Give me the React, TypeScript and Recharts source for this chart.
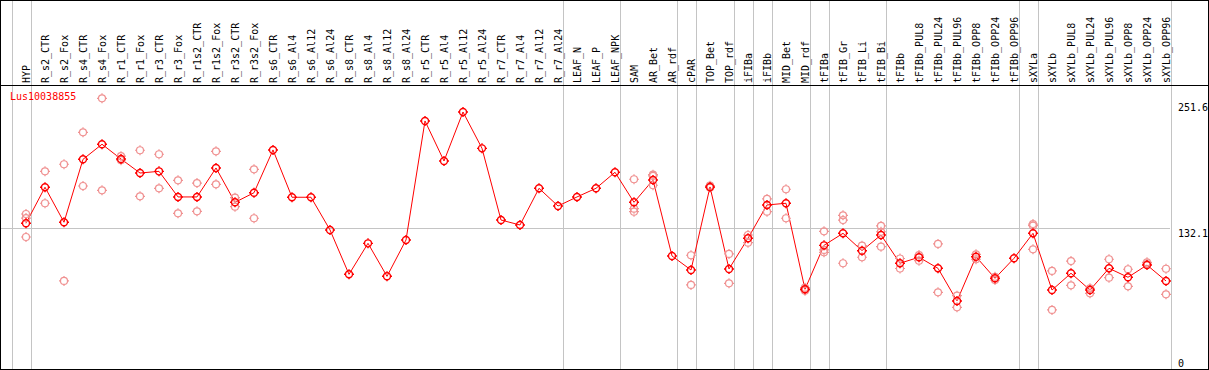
import React from 'react';
import { ComposedChart, Line, Scatter, XAxis, YAxis, ReferenceLine } from 'recharts';

const geneId = 'Lus10038855';

const categories = [
  'HYP', 'R_s2_CTR', 'R_s2_Fox', 'R_s4_CTR', 'R_s4_Fox', 'R_r1_CTR', 'R_r1_Fox', 'R_r3_CTR', 'R_r3_Fox',
  'R_r1s2_CTR', 'R_r1s2_Fox', 'R_r3s2_CTR', 'R_r3s2_Fox', 'R_s6_CTR', 'R_s6_Al4', 'R_s6_Al12', 'R_s6_Al24',
  'R_s8_CTR', 'R_s8_Al4', 'R_s8_Al12', 'R_s8_Al24', 'R_r5_CTR', 'R_r5_Al4', 'R_r5_Al12', 'R_r5_Al24',
  'R_r7_CTR', 'R_r7_Al4', 'R_r7_Al12', 'R_r7_Al24', 'LEAF_N', 'LEAF_P', 'LEAF_NPK', 'SAM', 'AR_Bet', 'AR_rdf',
  'cPAR', 'TOP_Bet', 'TOP_rdf', 'iFIBa', 'iFIBb', 'MID_Bet', 'MID_rdf', 'tFIBa', 'tFIB_Gr', 'tFIB_Li', 'tFIB_Bi',
  'tFIBb', 'tFIBb_PUL8', 'tFIBb_PUL24', 'tFIBb_PUL96', 'tFIBb_OPP8', 'tFIBb_OPP24', 'tFIBb_OPP96',
  'sXYLa', 'sXYLb', 'sXYLb_PUL8', 'sXYLb_PUL24', 'sXYLb_PUL96', 'sXYLb_OPP8', 'sXYLb_OPP24', 'sXYLb_OPP96',
];

const means = [
  136.8, 171.0, 137.8, 197.5, 211.8, 197.8, 184.5, 186.1, 161.8, 161.8, 189.3, 156.7, 165.8,
  206.4, 161.5, 161.5, 130.5, 88.4, 117.8, 86.5, 121.0, 233.9, 195.9, 242.4, 207.9,
  139.9, 135.2, 170.0, 153.2, 161.8, 170.0, 185.2, 156.7, 177.9, 105.8, 92.5, 171.3, 93.5,
  122.6, 154.2, 155.8, 74.2, 115.9, 127.3, 110.8, 125.7, 98.9, 104.6, 94.1, 63.1, 105.1, 84.6, 103.6,
  127.3, 73.5, 89.4, 73.5, 94.1, 85.6, 97.2, 82.1,
];

// individual samples, one list per category
const replicates: number[][] = [
  [145.6, 141.8, 123.8], [186.1, 155.8], [192.8, 82.1], [223.1, 172.2], [255.4, 168.1],
  [200.5, 196.7], [206.1, 162.4], [202.3, 170.0], [177.6, 146.3], [175.0, 148.2],
  [205.1, 173.8], [161.1, 152.6], [188.0, 141.6],
  [], [], [], [], [], [], [], [], [], [], [], [], [], [], [], [], [], [], [],
  [178.6, 150.7, 147.8], [182.9, 181.7, 172.9], [], [106.5, 78.3], [172.5, 170.6], [107.7, 79.9],
  [125.7, 118.4], [159.9, 147.8], [169.1, 141.6], [75.7, 72.9], [129.2, 111.5, 109.3],
  [144.4, 139.9, 98.9], [115.6, 104.6], [134.3, 128.8, 114.6], [103.4, 93.9], [106.7, 101.3],
  [117.2, 71.3], [68.1, 57.1], [107.4, 102.7], [86.1, 83.0], [],
  [136.1, 134.5, 112.1], [91.6, 54.6], [101.0, 78.0], [75.1, 70.4], [102.7, 85.2],
  [93.2, 77.0], [99.8, 98.2], [93.7, 69.4],
];

// last category index of each block (vertical separators)
const groupEnds = [-1, 0, 28, 31, 34, 35, 37, 38, 39, 41, 42, 45, 52, 53, 60];
const yTicks = [0, 132.1, 251.6];

const lineData = categories.map((name, idx) => ({ idx, name, mean: means[idx] }));
const repData = replicates.flatMap((vals, idx) => vals.map((value) => ({ idx, value })));

const FONT = 'DejaVu Sans Mono';
const Y_MAX = 268;
const FULL_TOP = 348.6;
const FULL_BOTTOM = -1.4;

const Marker = ({ cx, cy, color, width }: any) => {
  if (cx == null || cy == null) return null;
  const r = 3.5;
  return (
    <g stroke={color} strokeWidth={width} fill="none">
      <circle cx={cx} cy={cy} r={r} />
      <line x1={cx} y1={cy - r - 1.5} x2={cx} y2={cy - r} />
      <line x1={cx} y1={cy + r} x2={cx} y2={cy + r + 1.5} />
      <line x1={cx - r - 1.5} y1={cy} x2={cx - r} y2={cy} />
      <line x1={cx + r} y1={cy} x2={cx + r + 1.5} y2={cy} />
    </g>
  );
};

const CategoryTick = ({ x, y, payload }: any) => (
  <text
    x={x}
    y={y}
    dy="0.35em"
    transform={`rotate(-90 ${x} ${y})`}
    textAnchor="start"
    fontFamily={FONT}
    fontSize={10}
    fill="#000"
  >
    {categories[payload.value]}
  </text>
);

const ValueTick = ({ x, y, payload, index }: any) => (
  <text x={x} y={y} dy={index === 0 ? -1 : 8.5} textAnchor="start" fontFamily={FONT} fontSize={10} fill="#000">
    {payload.value}
  </text>
);

export default function App() {
  return (
    <div style={{ position: 'absolute', left: 0, top: 0, width: 1209, height: 370, background: '#fff' }}>
      <ComposedChart width={1209} height={370} data={lineData} margin={{ top: 0, right: 0, bottom: 2.5, left: 0 }}>
        <XAxis
          dataKey="idx"
          type="number"
          orientation="top"
          height={85}
          domain={[-26 / 19, 1144 / 19]}
          ticks={lineData.map((d) => d.idx)}
          interval={0}
          axisLine={false}
          tickLine={false}
          tickSize={0}
          tickMargin={2}
          tick={<CategoryTick />}
        />
        <YAxis
          orientation="right"
          width={39}
          domain={[0, Y_MAX]}
          ticks={yTicks}
          interval={0}
          axisLine={false}
          tickLine={false}
          tickSize={0}
          tickMargin={8}
          tick={<ValueTick />}
        />
        <ReferenceLine y={132.1} stroke="#c4c4c4" shapeRendering="crispEdges" />
        {groupEnds.map((g) => (
          <ReferenceLine
            key={g}
            segment={[{ x: g + 5 / 19, y: FULL_BOTTOM }, { x: g + 5 / 19, y: FULL_TOP }]}
            ifOverflow="visible"
            stroke="#c4c4c4"
            shapeRendering="crispEdges"
          />
        ))}
        <Scatter
          data={repData}
          dataKey="value"
          isAnimationActive={false}
          shape={(p: any) => <Marker cx={p.cx} cy={p.cy} color="#f09292" width={1.2} />}
        />
        <Line
          dataKey="mean"
          stroke="#ff0000"
          strokeWidth={1}
          isAnimationActive={false}
          dot={(p: any) => <Marker key={p.index} cx={p.cx} cy={p.cy} color="#ff0000" width={1.4} />}
          activeDot={false}
        />
      </ComposedChart>
      <div style={{ position: 'absolute', left: 0, top: 85, width: 1209, height: 1, background: '#000' }} />
      <div
        style={{
          position: 'absolute', left: 0, top: 0, width: 1209, height: 370,
          border: '1px solid #000', boxSizing: 'border-box', pointerEvents: 'none',
        }}
      />
      <div
        style={{
          position: 'absolute', left: 10, top: 92, fontFamily: FONT, fontSize: 10,
          lineHeight: '10px', color: '#ff0000', whiteSpace: 'nowrap',
        }}
      >
        {geneId}
      </div>
    </div>
  );
}
